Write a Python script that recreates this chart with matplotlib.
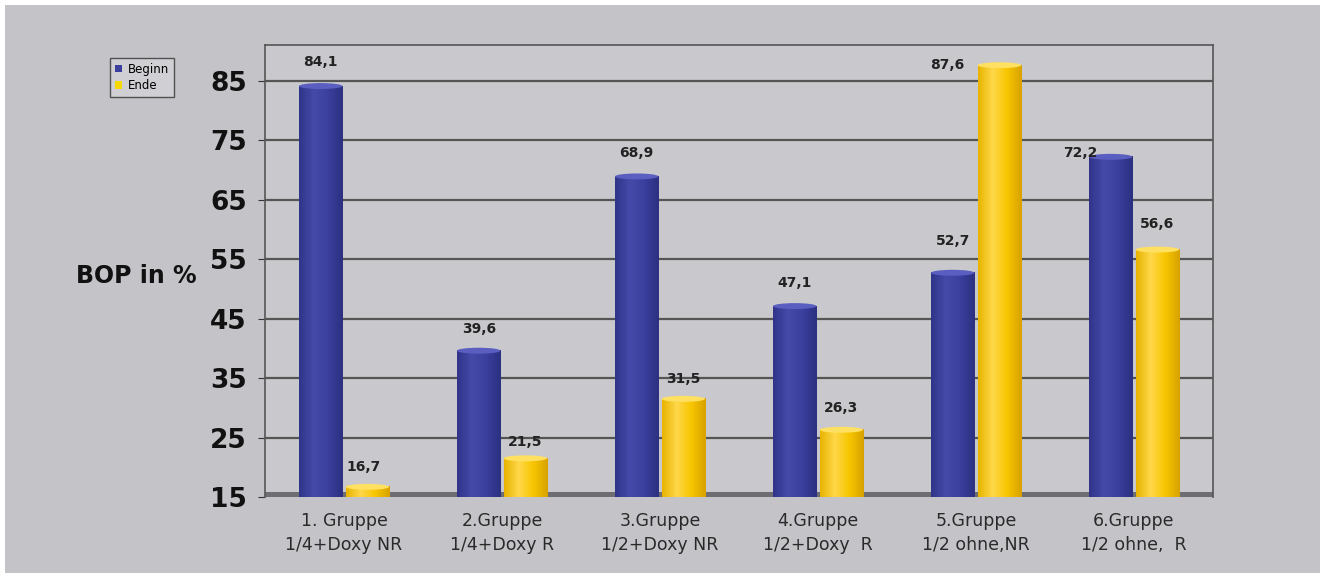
import matplotlib
matplotlib.use("Agg")
import matplotlib.pyplot as plt
import numpy as np
from matplotlib.patches import Rectangle, Ellipse
from matplotlib.colors import LinearSegmentedColormap

plt.rcParams['font.family'] = ['DejaVu Sans']

groups = ["1. Gruppe\n1/4+Doxy NR", "2.Gruppe\n1/4+Doxy R", "3.Gruppe\n1/2+Doxy NR",
          "4.Gruppe\n1/2+Doxy  R", "5.Gruppe\n1/2 ohne,NR", "6.Gruppe\n1/2 ohne,  R"]
beginn = [84.1, 39.6, 68.9, 47.1, 52.7, 72.2]
ende = [16.7, 21.5, 31.5, 26.3, 87.6, 56.6]
yticks = [15, 25, 35, 45, 55, 65, 75, 85]

# label offsets in pixels (most labels sit above the bar, two are shifted left)
beginn_dx = [0, 0, 0, 0, 0, -30]
beginn_dy = [24, 22, 23, 23, 32, 4]
ende_dx = [-4, 0, 0, 0, -52, 0]
ende_dy = [20, 16, 20, 22, 0, 26]

base = yticks[0]

fig = plt.figure(figsize=(13.25, 5.78), dpi=100, facecolor="white")
fig.patches.append(Rectangle((5 / 1325, 5 / 578), 1315 / 1325, 568 / 578,
                             transform=fig.transFigure, facecolor="#c4c4c8",
                             edgecolor="none", zorder=-10))

ax = fig.add_axes([265 / 1325, 81 / 578, 948 / 1325, 452 / 578])
ax.set_facecolor("#c9c9cd")

x = np.arange(len(groups))
w = 0.275

cmap_blue = LinearSegmentedColormap.from_list("b", ["#30358a", "#4549a8", "#3b3f9e", "#2c3080"])
cmap_yel = LinearSegmentedColormap.from_list("y", ["#e8b400", "#ffd84a", "#f7c600", "#d8a200"])
grad = np.linspace(0, 1, 64).reshape(1, -1)


def cyl(xpos, vals, cmap, cap):
    heights = np.array(vals) - base
    bars = ax.bar(xpos, heights, w, bottom=base, color=cmap(0.6), zorder=3)
    for b in bars:
        x0 = b.get_x()
        top = b.get_y() + b.get_height()
        ax.imshow(grad, cmap=cmap, aspect="auto", extent=[x0, x0 + w, base, top], zorder=3.1)
        ax.add_patch(Ellipse((x0 + w / 2, top), w, 1.0, facecolor=cap,
                             edgecolor="none", zorder=3.2))
    return bars


cyl(x - w / 2 - 0.01, beginn, cmap_blue, "#5a5ec0")
cyl(x + w / 2 + 0.01, ende, cmap_yel, "#ffe060")

for i in range(len(groups)):
    ax.annotate(f"{beginn[i]:.1f}".replace(".", ","), (x[i] - w / 2 - 0.01, beginn[i]),
                xytext=(beginn_dx[i], beginn_dy[i]), textcoords="offset pixels",
                ha="center", va="center", fontsize=10, fontweight="bold", color="#222222", zorder=5)
    ax.annotate(f"{ende[i]:.1f}".replace(".", ","), (x[i] + w / 2 + 0.01, ende[i]),
                xytext=(ende_dx[i], ende_dy[i]), textcoords="offset pixels",
                ha="center", va="center", fontsize=10, fontweight="bold", color="#222222", zorder=5)

ax.set_xlim(-0.5, 5.5)
ax.set_ylim(15, 91)
ax.set_yticks(yticks)
ax.set_yticklabels([str(t) for t in yticks], fontsize=19, fontweight="bold", color="#111111")
ax.set_xticks(x)
ax.set_xticklabels(groups, fontsize=12.5, color="#2a2a2a", linespacing=1.38)
ax.tick_params(axis="x", length=0, pad=11)
ax.tick_params(axis="y", length=5, pad=8, color="#333333")
ax.grid(axis="y", color="#555555", linewidth=1.6, zorder=1)
for s in ["top", "right", "left"]:
    ax.spines[s].set_color("#555555")
    ax.spines[s].set_linewidth(1.2)
ax.spines["bottom"].set_visible(False)
ax.add_patch(Rectangle((0, 0), 1, 0.012, transform=ax.transAxes, facecolor="#6e6e72",
                       edgecolor="none", zorder=2, clip_on=False))

fig.text(136 / 1325, 1 - 276 / 578, "BOP in %", fontsize=17, fontweight="bold",
         ha="center", va="center", color="#111111")

h1 = Rectangle((0, 0), 1, 1, facecolor="#3b3f9e")
h2 = Rectangle((0, 0), 1, 1, facecolor="#f7d800")
leg = fig.legend([h1, h2], ["Beginn", "Ende"], loc="upper left",
                 bbox_to_anchor=(104 / 1325, 1 - 52 / 578), fontsize=8.5,
                 frameon=True, fancybox=False, handlelength=0.6, handleheight=0.6,
                 handletextpad=0.5, borderpad=0.4, labelspacing=0.3)
leg.get_frame().set_facecolor("#d4d4d8")
leg.get_frame().set_edgecolor("#333333")

fig.savefig("out.png", dpi=100, facecolor=fig.get_facecolor())
